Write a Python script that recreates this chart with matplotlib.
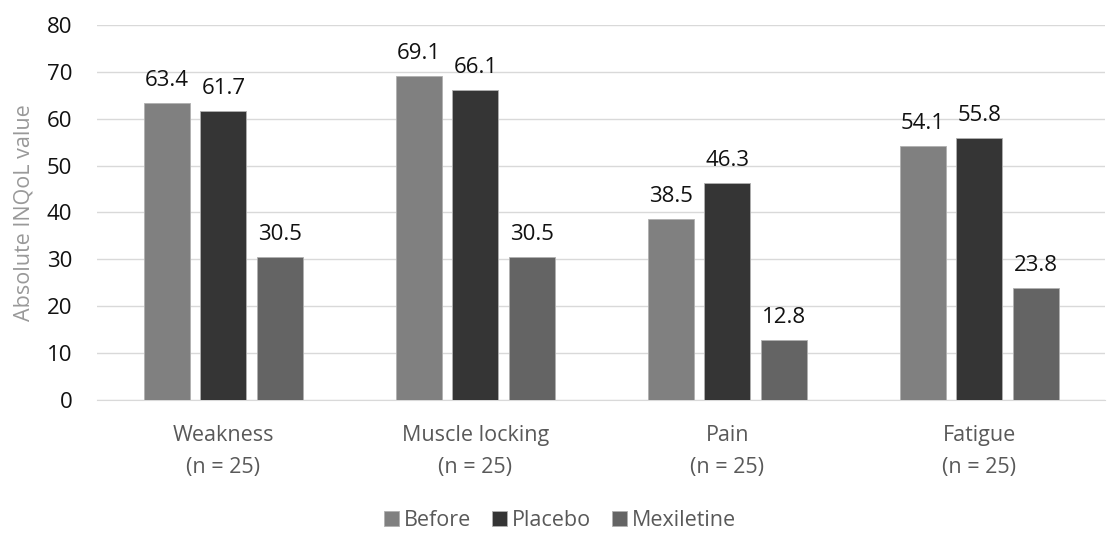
import numpy as np
import matplotlib.pyplot as plt

# INQoL domain scores per treatment arm
categories = ["Weakness\n(n = 25)", "Muscle locking\n(n = 25)", "Pain\n(n = 25)", "Fatigue\n(n = 25)"]
before = [63.4, 69.1, 38.5, 54.1]
placebo = [61.7, 66.1, 46.3, 55.8]
mexiletine = [30.5, 30.5, 12.8, 23.8]

series = [("Before", before, "#808080"),
          ("Placebo", placebo, "#353535"),
          ("Mexiletine", mexiletine, "#646464")]

plt.rcParams["font.family"] = ["Open Sans", "DejaVu Sans"]

fig = plt.figure(figsize=(11.2, 5.33), dpi=100)
ax = fig.add_axes([0.087, 0.25, 0.90, 0.703])

x = np.arange(len(categories))
width = 0.183
step = 0.225

for i, (name, vals, color) in enumerate(series):
    pos = x + (i - 1) * step
    bars = ax.bar(pos, vals, width, color=color, edgecolor="#b0b0b0",
                  linewidth=0.6, label=name, zorder=3)
    for b, v in zip(bars, vals):
        ax.text(b.get_x() + b.get_width() / 2, v + 2.6, f"{v:.1f}",
                ha="center", va="bottom", fontsize=16, color="#111111")

ax.set_ylim(0, 80)
ax.set_xlim(-0.5, len(categories) - 0.5)
ax.set_yticks(range(0, 81, 10))
ax.tick_params(axis="y", length=0, labelsize=16, pad=18, labelcolor="#111111")
ax.tick_params(axis="x", length=0, labelsize=15.5, pad=18, labelcolor="#595959")
ax.set_xticks(x)
ax.set_xticklabels(categories, linespacing=1.7)
ax.grid(axis="y", color="#d9d9d9", linewidth=1, zorder=0)
for s in ["top", "right", "left"]:
    ax.spines[s].set_visible(False)
ax.spines["bottom"].set_color("#d9d9d9")
ax.set_ylabel("Absolute INQoL value", fontsize=15.5, color="#999999", labelpad=9)

fig.legend(loc="center", bbox_to_anchor=(0.5, 0.023), ncol=3, frameon=False,
           fontsize=15.5, handlelength=0.7, handleheight=0.7, handletextpad=0.2,
           columnspacing=1.0, labelcolor="#595959")

fig.savefig("out.png", dpi=100)
